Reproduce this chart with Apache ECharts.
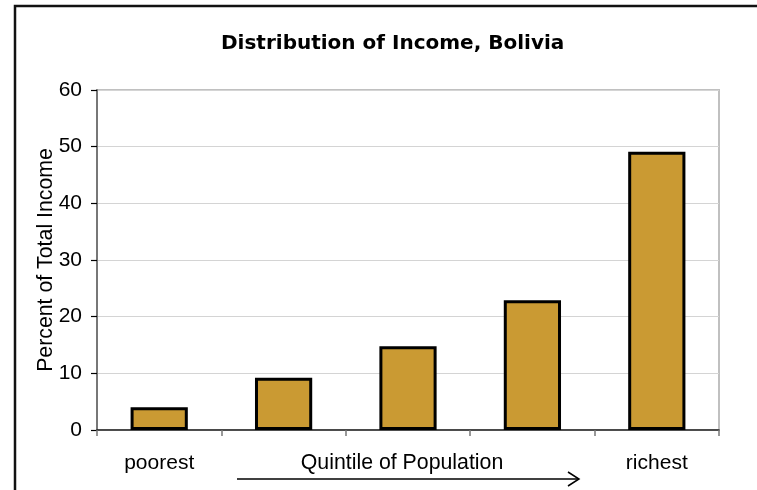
<!DOCTYPE html>
<html>
<head>
<meta charset="utf-8">
<script src="https://cdn.jsdelivr.net/npm/echarts@6/dist/echarts.min.js"></script>
<style>
html,body{margin:0;padding:0;background:#fff;}
#main{width:757px;height:490px;}
</style>
</head>
<body>
<div id="main"></div>
<script>
var titleText = 'Distribution of Income, Bolivia';
var categories = ['poorest', '', '', '', 'richest'];
var incomeShare = [4.0, 9.2, 14.8, 22.9, 49.1];
var yTicks = [0, 10, 20, 30, 40, 50, 60];
var xAxisTitle = 'Quintile of Population';
var yAxisTitle = 'Percent of Total Income';

var chart = echarts.init(document.getElementById('main'), null, {renderer: 'canvas'});
var font = '"Liberation Sans", Arial, sans-serif';
chart.setOption({
  animation: false,
  backgroundColor: '#fff',
  title: {
    text: titleText,
    left: 216,
    top: 29,
    textStyle: {fontFamily: '"DejaVu Sans", Verdana, sans-serif', fontWeight: 'bold', fontSize: 20, color: '#000'}
  },
  grid: {
    left: 97, right: 38, top: 90, bottom: 60,
    containLabel: false,
    outerBoundsMode: 'none',
    show: true, borderColor: '#c0c0c0', borderWidth: 2, backgroundColor: 'transparent'
  },
  xAxis: {
    type: 'category',
    data: categories,
    name: xAxisTitle,
    nameLocation: 'middle',
    nameGap: 23,
    nameMoveOverlap: false,
    nameTextStyle: {fontFamily: font, fontSize: 21.3, color: '#000', padding: [0, 12, 0, 0], verticalAlign: 'top'},
    axisLine: {lineStyle: {color: '#222', width: 1.5}},
    axisTick: {show: true, length: 6, lineStyle: {color: '#777', width: 1.5}},
    axisLabel: {interval: 0, fontFamily: font, fontSize: 21, color: '#000', margin: 23}
  },
  yAxis: {
    type: 'value',
    min: yTicks[0],
    max: yTicks[yTicks.length - 1],
    interval: 10,
    name: yAxisTitle,
    nameLocation: 'middle',
    nameGap: 40,
    nameMoveOverlap: false,
    nameTextStyle: {fontFamily: font, fontSize: 21.3, color: '#000'},
    axisLine: {show: true, lineStyle: {color: '#777', width: 2}},
    axisTick: {show: true, length: 6, lineStyle: {color: '#000', width: 1.2}},
    axisLabel: {fontFamily: font, fontSize: 21, color: '#000', margin: 15},
    splitLine: {show: true, lineStyle: {color: '#d4d4d4', width: 1}}
  },
  series: [{
    type: 'bar',
    data: incomeShare,
    barWidth: '46%',
    itemStyle: {color: '#CA9A33', borderColor: '#000', borderWidth: 3}
  }],
  graphic: [
    {type: 'rect', shape: {x: 15, y: 6, width: 800, height: 600}, style: {fill: 'none', stroke: '#111', lineWidth: 2.5}, silent: true, z: 100},
    {type: 'line', shape: {x1: 237, y1: 479, x2: 579, y2: 479}, style: {stroke: '#000', lineWidth: 1.5}, silent: true},
    {type: 'polyline', shape: {points: [[568, 472], [579, 479], [568, 486]]}, style: {stroke: '#000', lineWidth: 1.5, fill: 'none'}, silent: true}
  ]
});
</script>
</body>
</html>
